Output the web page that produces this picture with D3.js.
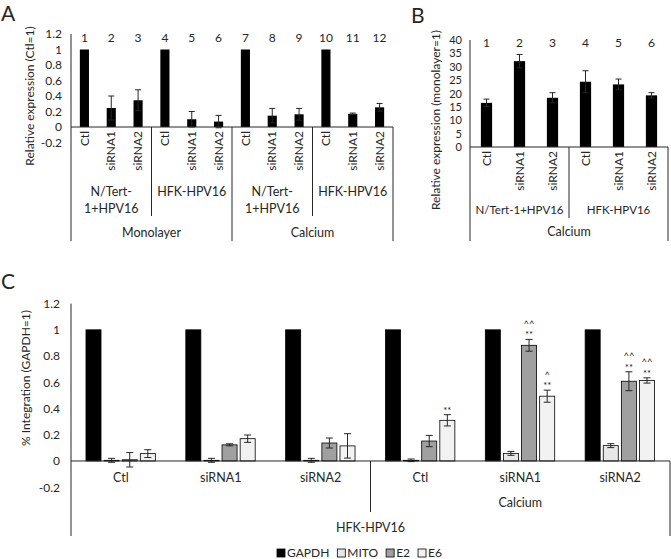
<!DOCTYPE html>
<html>
<head>
<meta charset="utf-8">
<script src="https://cdn.jsdelivr.net/npm/d3@7"></script>
<style>
  body { margin: 0; background: #fff; }
  text { font-family: Lato, "Open Sans", sans-serif; fill: #262626; }
</style>
</head>
<body>
<svg width="671" height="559"></svg>
<script>
// ---- panel A data ----
const aNumbers = ['1','2','3','4','5','6','7','8','9','10','11','12'];
const aCats = ['Ctl','siRNA1','siRNA2','Ctl','siRNA1','siRNA2','Ctl','siRNA1','siRNA2','Ctl','siRNA1','siRNA2'];
const aValues = [1, 0.245, 0.345, 1, 0.10, 0.07, 1, 0.146, 0.164, 1, 0.17, 0.254];
const aErrors = [0, 0.155, 0.135, 0, 0.10, 0.08, 0, 0.094, 0.076, 0, 0.01, 0.05];
const aGroups = [['N/Tert-','1+HPV16'], ['HFK-HPV16'], ['N/Tert-','1+HPV16'], ['HFK-HPV16']];
const aConditions = ['Monolayer', 'Calcium'];
const aTicks = [-0.2, 0, 0.2, 0.4, 0.6, 0.8, 1, 1.2];

// ---- panel B data ----
const bNumbers = ['1','2','3','4','5','6'];
const bCats = ['Ctl','siRNA1','siRNA2','Ctl','siRNA1','siRNA2'];
const bValues = [16.5, 32.1, 18.4, 24.4, 23.4, 19.3];
const bErrors = [1.4, 2.5, 1.9, 4.1, 2.0, 1.0];
const bGroups = ['N/Tert-1+HPV16', 'HFK-HPV16'];
const bConditions = ['Calcium'];
const bTicks = [0, 5, 10, 15, 20, 25, 30, 35, 40];

// ---- panel C data ----
const cCats = ['Ctl','siRNA1','siRNA2','Ctl','siRNA1','siRNA2'];
const cSeries = ['GAPDH','MITO','E2','E6'];
const cGapdh = [1, 1, 1, 1, 1, 1];
const cMito = [0.005, 0.005, 0.005, 0.005, 0.058, 0.117];
const cE2 = [0.009, 0.123, 0.137, 0.152, 0.882, 0.608];
const cE6 = [0.056, 0.17, 0.115, 0.31, 0.494, 0.614];
const cMitoErr = [0.015, 0.015, 0.015, 0.01, 0.015, 0.015];
const cE2Err = [0.055, 0.008, 0.038, 0.043, 0.045, 0.072];
const cE6Err = [0.03, 0.028, 0.093, 0.043, 0.046, 0.02];
const cE2Marks = ['', '', '', '', '^^|**', '^^|**'];
const cE6Marks = ['', '', '', '**', '^|**', '^^|**'];
const cTicks = [-0.2, 0, 0.2, 0.4, 0.6, 0.8, 1, 1.2];
const cOuter = ['HFK-HPV16'];
const cConditions = ['Calcium'];
const cColors = ['#000000', '#e7e7e7', '#a0a0a0', '#f2f2f2'];

const svg = d3.select('svg');
const fmt = d => String(+d.toFixed(1));
const lineCol = '#262626';
const fs = '12px';

function vline(g, x, y1, y2) {
  g.append('line').attr('x1', x).attr('x2', x).attr('y1', y1).attr('y2', y2)
    .attr('stroke', lineCol).attr('stroke-width', 1);
}
function hline(g, y, x1, x2) {
  g.append('line').attr('x1', x1).attr('x2', x2).attr('y1', y).attr('y2', y)
    .attr('stroke', lineCol).attr('stroke-width', 1);
}

function yAxis(g, y, x, ticks, pad, size) {
  const ax = g.append('g').attr('transform', `translate(${x},0)`)
    .call(d3.axisLeft(y).tickValues(ticks).tickSize(0).tickPadding(pad).tickFormat(fmt));
  ax.select('.domain').remove();
  ax.selectAll('text').style('font-size', size || fs).style('font-family', null).attr('fill', null);
}

function errorBar(g, cx, y, v, e, cap) {
  const top = y(v + e), bot = y(v - e);
  g.append('line').attr('x1', cx).attr('x2', cx).attr('y1', top).attr('y2', bot)
    .attr('stroke', lineCol).attr('stroke-width', 1);
  [top, bot].forEach(yy => g.append('line')
    .attr('x1', cx - cap / 2).attr('x2', cx + cap / 2).attr('y1', yy).attr('y2', yy)
    .attr('stroke', lineCol).attr('stroke-width', 1));
}

// ================= PANEL A =================
{
  const g = svg.append('g');
  const left = 71, right = 393;
  const y = d3.scaleLinear().domain([-0.2, 1.2]).range([142.5, 34]);
  const x = d3.scaleBand().domain(d3.range(aValues.length)).range([left, right])
    .paddingInner(0.66).paddingOuter(0.33);
  const grp = d3.scaleBand().domain(d3.range(aGroups.length)).range([left, right]);
  const cond = d3.scaleBand().domain(d3.range(aConditions.length)).range([left, right]);

  yAxis(g, y, left, aTicks, 9);

  g.selectAll('rect.bar').data(aValues).join('rect').attr('class', 'bar')
    .attr('x', (d, i) => x(i)).attr('width', x.bandwidth())
    .attr('y', d => y(d)).attr('height', d => y(0) - y(d)).attr('fill', '#000');
  aValues.forEach((v, i) => {
    if (aErrors[i] > 0) errorBar(g, x(i) + x.bandwidth() / 2, y, v, aErrors[i], 6);
  });

  g.selectAll('text.num').data(aNumbers).join('text').attr('class', 'num')
    .attr('x', (d, i) => x(i) + x.bandwidth() / 2).attr('y', 42)
    .attr('text-anchor', 'middle').style('font-size', fs).text(d => d);

  hline(g, y(0), left, right);
  vline(g, left, 34, 241);
  vline(g, right, y(0), 241);
  for (let k = 1; k < aGroups.length; k++) {
    vline(g, grp(k), y(0), k === 2 ? 241 : 216);
  }

  g.selectAll('text.cat').data(aCats).join('text').attr('class', 'cat')
    .attr('transform', (d, i) => `translate(${x(i) + x.bandwidth() / 2},131) rotate(-90)`)
    .attr('text-anchor', 'end').attr('dy', '0.35em').style('font-size', fs).text(d => d);

  aGroups.forEach((lines, k) => {
    const cx = grp(k) + grp.bandwidth() / 2;
    const t = g.append('text').attr('x', cx).attr('y', 196)
      .attr('text-anchor', 'middle').style('font-size', '12.5px');
    lines.forEach((s, j) => t.append('tspan').attr('x', cx).attr('dy', j === 0 ? 0 : 16.5).text(s));
  });
  aConditions.forEach((s, k) => g.append('text').attr('x', cond(k) + cond.bandwidth() / 2)
    .attr('y', 237).attr('text-anchor', 'middle').style('font-size', '12.5px').text(s));

  g.append('text').attr('transform', 'translate(30,96) rotate(-90)').attr('text-anchor', 'middle')
    .attr('dy', '0.35em').style('font-size', fs).text('Relative expression (Ctl=1)');
  g.append('text').attr('x', 1).attr('y', 21).style('font-size', '21px').attr('fill', '#000').text('A');
}

// ================= PANEL B =================
{
  const g = svg.append('g');
  const left = 470, right = 668;
  const y = d3.scaleLinear().domain([0, 40]).range([147, 40]);
  const x = d3.scaleBand().domain(d3.range(bValues.length)).range([left, right])
    .paddingInner(0.66).paddingOuter(0.33);
  const grp = d3.scaleBand().domain(d3.range(bGroups.length)).range([left, right]);

  yAxis(g, y, left, bTicks, 8, '11px');

  g.selectAll('rect.bar').data(bValues).join('rect').attr('class', 'bar')
    .attr('x', (d, i) => x(i)).attr('width', x.bandwidth())
    .attr('y', d => y(d)).attr('height', d => y(0) - y(d)).attr('fill', '#000');
  bValues.forEach((v, i) => errorBar(g, x(i) + x.bandwidth() / 2, y, v, bErrors[i], 6));

  g.selectAll('text.num').data(bNumbers).join('text').attr('class', 'num')
    .attr('x', (d, i) => x(i) + x.bandwidth() / 2).attr('y', 47)
    .attr('text-anchor', 'middle').style('font-size', fs).text(d => d);

  hline(g, y(0), left, right);
  vline(g, left, 40, 241);
  vline(g, right, y(0), 241);
  vline(g, grp(1), y(0), 218);

  g.selectAll('text.cat').data(bCats).join('text').attr('class', 'cat')
    .attr('transform', (d, i) => `translate(${x(i) + x.bandwidth() / 2},151) rotate(-90)`)
    .attr('text-anchor', 'end').attr('dy', '0.35em').style('font-size', fs).text(d => d);
  bGroups.forEach((s, k) => g.append('text').attr('x', grp(k) + grp.bandwidth() / 2)
    .attr('y', 214).attr('text-anchor', 'middle').style('font-size', '11.5px').text(s));
  bConditions.forEach(s => g.append('text').attr('x', (left + right) / 2)
    .attr('y', 236).attr('text-anchor', 'middle').style('font-size', '12.5px').text(s));

  g.append('text').attr('transform', 'translate(436,120) rotate(-90)').attr('text-anchor', 'middle')
    .attr('dy', '0.35em').style('font-size', fs).text('Relative expression (monolayer=1)');
  g.append('text').attr('x', 411).attr('y', 23).style('font-size', '21px').attr('fill', '#000').text('B');
}

// ================= PANEL C =================
{
  const g = svg.append('g');
  const left = 71, right = 670;
  const y = d3.scaleLinear().domain([-0.2, 1.2]).range([487.2, 303.6]);
  const x0 = d3.scaleBand().domain(d3.range(cCats.length)).range([left, right]);
  const bw = x0.bandwidth();
  const x1 = d3.scaleBand().domain(cSeries).range([0.15 * bw, 0.845 * bw]).paddingInner(0.17);
  const values = [cGapdh, cMito, cE2, cE6];
  const errors = [null, cMitoErr, cE2Err, cE6Err];
  const marks = [null, null, cE2Marks, cE6Marks];

  yAxis(g, y, left, cTicks, 11);

  cSeries.forEach((s, si) => {
    values[si].forEach((v, i) => {
      g.append('rect').attr('x', x0(i) + x1(s)).attr('width', x1.bandwidth())
        .attr('y', y(v)).attr('height', y(0) - y(v))
        .attr('fill', cColors[si]).attr('stroke', '#000').attr('stroke-width', 0.8);
    });
  });
  cSeries.forEach((s, si) => {
    if (!errors[si]) return;
    values[si].forEach((v, i) => {
      const cx = x0(i) + x1(s) + x1.bandwidth() / 2;
      errorBar(g, cx, y, v, errors[si][i], 7);
      const m = marks[si] && marks[si][i];
      if (m) {
        // significance marks, stacked above the error bar
        const top = y(v + errors[si][i]);
        m.split('|').reverse().forEach((p, j) => g.append('text').attr('x', cx)
          .attr('y', top - 1 - j * 11.5).attr('text-anchor', 'middle')
          .style('font-size', '9.5px').text(p));
      }
    });
  });

  hline(g, y(0), left, right);
  vline(g, left, 303.6, 536);
  vline(g, right, y(0), 536);
  vline(g, x0(3), y(0), 512);

  g.selectAll('text.cat').data(cCats).join('text').attr('class', 'cat')
    .attr('x', (d, i) => x0(i) + bw / 2).attr('y', 482)
    .attr('text-anchor', 'middle').style('font-size', '12.5px').text(d => d);
  cConditions.forEach(s => g.append('text').attr('x', (x0(3) + right) / 2).attr('y', 507)
    .attr('text-anchor', 'middle').style('font-size', '12.5px').text(s));
  cOuter.forEach(s => g.append('text').attr('x', (left + right) / 2).attr('y', 532)
    .attr('text-anchor', 'middle').style('font-size', '12.5px').text(s));

  g.append('text').attr('transform', 'translate(26,378) rotate(-90)').attr('text-anchor', 'middle')
    .attr('dy', '0.35em').style('font-size', fs).text('% Integration (GAPDH=1)');
  g.append('text').attr('x', 1).attr('y', 289).style('font-size', '21px').attr('fill', '#000').text('C');

  // legend
  const leg = g.append('g').attr('transform', 'translate(277,557)');
  let lx = 0;
  cSeries.forEach((s, si) => {
    leg.append('rect').attr('x', lx).attr('y', -8).attr('width', 8).attr('height', 8)
      .attr('fill', cColors[si]).attr('stroke', '#000').attr('stroke-width', 0.8);
    const t = leg.append('text').attr('x', lx + 10).attr('y', 0).style('font-size', fs).text(s);
    lx += 10 + t.node().getComputedTextLength() + 8;
  });
}
</script>
</body>
</html>
